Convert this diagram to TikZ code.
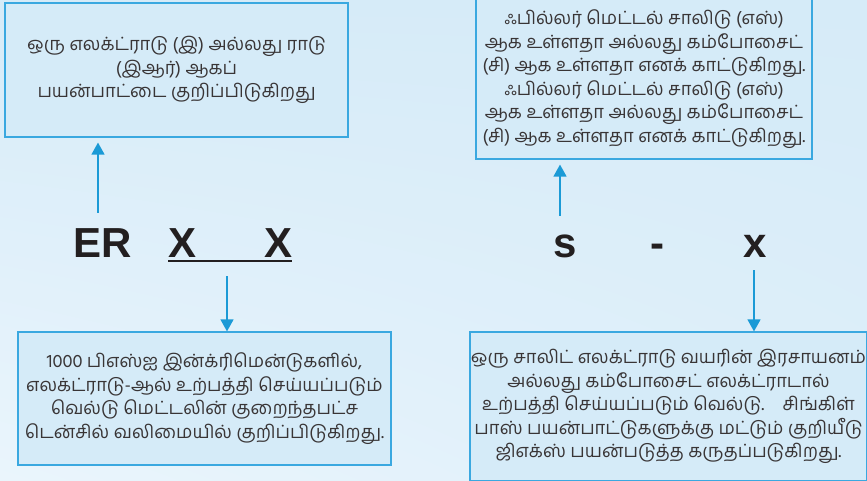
\documentclass[tikz,border=0pt]{standalone}
\usepackage{fontspec}
\usetikzlibrary{arrows.meta,shadings}
\newfontfamily\tamil[Script=Tamil]{Hind Madurai}
\newfontfamily\codefont{Liberation Sans}
\definecolor{bgtop}{HTML}{D6EBF8}
\definecolor{bgbottom}{HTML}{EAF5FC}
\definecolor{boxblue}{HTML}{D5EBF8}
\definecolor{edgeblue}{HTML}{3AA8E0}
\definecolor{arrowblue}{HTML}{1B9AD6}
\definecolor{ink}{HTML}{231F20}

\begin{document}
\begin{tikzpicture}[x=1pt,y=-1pt,
    infobox/.style={draw=edgeblue,line width=1.2pt,fill=boxblue,inner sep=0pt,align=center,
      text=ink!90,font=\tamil\fontsize{18.3}{23.5}\selectfont},
    pointer/.style={draw=arrowblue,line width=1.3pt,-{Triangle[width=13pt,length=12pt]}},
    code/.style={font=\codefont\bfseries\fontsize{42}{42}\selectfont,text=ink,anchor=base west,inner sep=0pt}]
  \useasboundingbox (0,0) rectangle (867,481);
  \shade[upper left=bgtop,upper right=bgtop,lower left=bgbottom,lower right=bgtop!60!bgbottom]
    (0,0) rectangle (867,481);

  % the four notes
  \node[infobox,minimum width=343pt,minimum height=134pt] (use) at (176.5,70)
    {ஒரு எலக்ட்ராடு (இ) அல்லது ராடு\\(இஆர்) ஆகப்\\பயன்பாட்டை குறிப்பிடுகிறது};
  \node[infobox,minimum width=336pt,minimum height=160pt] (filler) at (644,79)
    {ஃபில்லர் மெட்டல் சாலிடு (எஸ்)\\ஆக உள்ளதா அல்லது கம்போசைட்\\(சி) ஆக உள்ளதா எனக் காட்டுகிறது.\\
     ஃபில்லர் மெட்டல் சாலிடு (எஸ்)\\ஆக உள்ளதா அல்லது கம்போசைட்\\(சி) ஆக உள்ளதா எனக் காட்டுகிறது.};
  \node[infobox,minimum width=373pt,minimum height=133pt] (tensile) at (204.5,398.5)
    {1000 பிஎஸ்ஐ இன்க்ரிமென்டுகளில்,\\எலக்ட்ராடு-ஆல் உற்பத்தி செய்யப்படும்\\வெல்டு மெட்டலின் குறைந்தபட்ச\\டென்சில் வலிமையில் குறிப்பிடுகிறது.};
  \node[infobox,minimum width=397pt,minimum height=149pt] (chem) at (668.5,406.5)
    {ஒரு சாலிட் எலக்ட்ராடு வயரின் இரசாயனம்\\அல்லது கம்போசைட் எலக்ட்ராடால்\\உற்பத்தி செய்யப்படும் வெல்டு.\quad சிங்கிள்\\பாஸ் பயன்பாட்டுகளுக்கு மட்டும் குறியீடு\\ஜிஎக்ஸ் பயன்படுத்த கருதப்படுகிறது.};

  % the designation letters
  \foreach \n/\x/\t in {er/73/ER,xa/168/X,xb/264/X,sv/553/s,dsh/650/-,xv/743/x}{
    \node[code] (\n) at (\x,257) {\t};
  }
  \draw[ink,line width=1.6pt] ([yshift=-4pt]xa.south west) -- ([yshift=-4pt]xb.south east);

  % pointers
  \coordinate (erTail) at (98,213);
  \coordinate (sTail) at (560,216);
  \coordinate (xxTail) at (227,276);
  \coordinate (xTail) at (754,270);
  \draw[pointer,shorten >=5pt] (erTail) -- (erTail |- use.south);
  \draw[pointer,shorten >=5pt] (sTail) -- (sTail |- filler.south);
  \draw[pointer] (xxTail) -- (xxTail |- tensile.north);
  \draw[pointer] (xTail) -- (xTail |- chem.north);
\end{tikzpicture}
\end{document}
